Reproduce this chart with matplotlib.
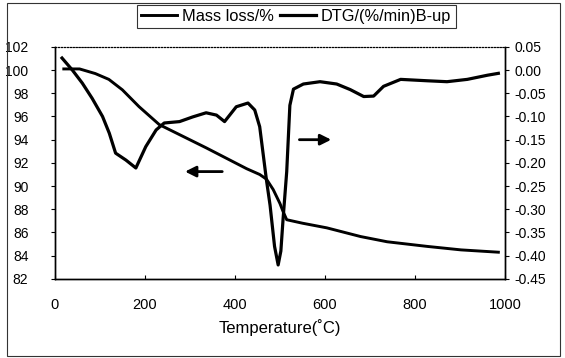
import matplotlib
matplotlib.use('Agg')
import matplotlib.pyplot as plt
from matplotlib.ticker import MultipleLocator, FormatStrFormatter
from matplotlib.patches import Rectangle

plt.rcParams['font.family'] = ['Liberation Sans', 'DejaVu Sans']

# mass loss curve (left axis)
temp_mass = [20, 55, 90, 120, 150, 187, 232, 284, 336, 381, 426, 455, 470, 485,
             500, 507, 515, 550, 604, 679, 738, 827, 902, 985]
mass_loss = [100.1, 100.1, 99.7, 99.2, 98.3, 96.85, 95.3, 94.3, 93.3, 92.4, 91.5,
             91.0, 90.6, 89.7, 88.5, 87.8, 87.1, 86.8, 86.4, 85.65, 85.2, 84.8,
             84.5, 84.3]

# DTG curve (right axis)
temp_dtg = [16, 39, 61, 83, 106, 121, 135, 158, 180, 202, 225, 243, 277, 306, 336,
            359, 377, 403, 429, 444, 455, 470, 478, 488, 496, 502, 507, 515, 522,
            530, 552, 589, 626, 656, 686, 708, 730, 768, 827, 871, 916, 961, 985]
dtg = [0.026, 0.000, -0.028, -0.061, -0.100, -0.136, -0.179, -0.194, -0.211,
       -0.165, -0.129, -0.114, -0.111, -0.101, -0.092, -0.097, -0.111, -0.079,
       -0.071, -0.086, -0.122, -0.237, -0.291, -0.380, -0.420, -0.390, -0.320,
       -0.219, -0.076, -0.041, -0.030, -0.025, -0.030, -0.042, -0.057, -0.056,
       -0.035, -0.020, -0.023, -0.025, -0.020, -0.011, -0.007]

fig = plt.figure(figsize=(5.65, 3.58), dpi=100)
ax = fig.add_axes([0.097, 0.221, 0.797, 0.648])
ax2 = ax.twinx()

l1, = ax.plot(temp_mass, mass_loss, color='black', lw=2.1, label='Mass loss/%')
l2, = ax2.plot(temp_dtg, dtg, color='black', lw=2.3, label='DTG/(%/min)B-up')

ax.set_xlim(0, 1000)
ax.set_ylim(82, 102)
ax2.set_ylim(-0.45, 0.05)
ax.xaxis.set_major_locator(MultipleLocator(200))
ax.yaxis.set_major_locator(MultipleLocator(2))
ax2.yaxis.set_major_locator(MultipleLocator(0.05))
ax2.yaxis.set_major_formatter(FormatStrFormatter('%.2f'))

ax.tick_params(axis='x', direction='in', length=3, pad=14, labelsize=10.5)
ax.tick_params(axis='y', direction='out', length=3, pad=16, labelsize=10)
ax2.tick_params(axis='y', direction='out', length=3, pad=4, labelsize=10)

for a in (ax, ax2):
    a.spines['top'].set_linestyle(':')
    a.spines['top'].set_linewidth(0.8)
    for s in ('left', 'right', 'bottom'):
        a.spines[s].set_linewidth(1.0)

ax.set_xlabel('Temperature(˚C)', fontsize=12, labelpad=5)

# arrows pointing to the matching axis
ax.annotate('', xy=(283, 91.25), xytext=(378, 91.25),
            arrowprops=dict(arrowstyle='-|>', mutation_scale=16, lw=2, color='black'))
ax.annotate('', xy=(620, 94.0), xytext=(537, 94.0),
            arrowprops=dict(arrowstyle='-|>', mutation_scale=16, lw=2, color='black'))

leg = fig.legend(handles=[l1, l2], loc='center', bbox_to_anchor=(0.524, 0.955),
                 ncol=2, fontsize=11.8, frameon=True, fancybox=False,
                 edgecolor='black', handlelength=2.2, handletextpad=0.3,
                 columnspacing=0.4, borderpad=0.25)
leg.get_frame().set_linewidth(0.8)

fig.patches.append(Rectangle((0.012, 0.006), 0.98, 0.985, transform=fig.transFigure,
                             fill=False, edgecolor='#333333', lw=0.8))

fig.savefig('out.png', dpi=100)
